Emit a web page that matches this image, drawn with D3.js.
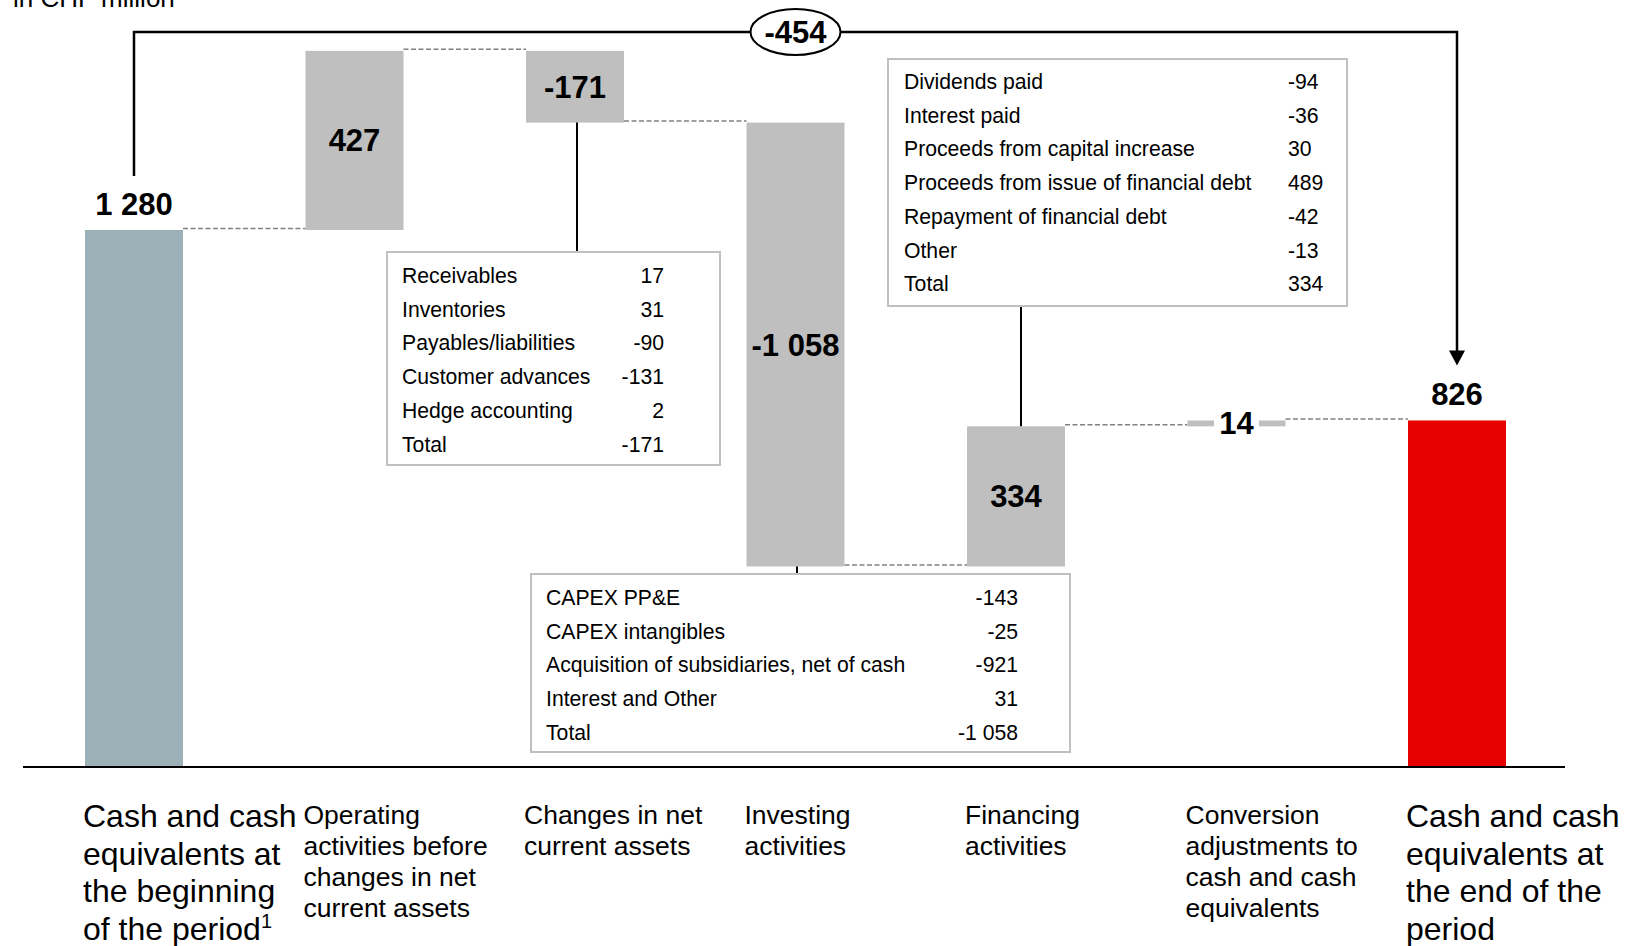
<!DOCTYPE html>
<html>
<head>
<meta charset="utf-8">
<script src="https://cdn.jsdelivr.net/npm/d3@7"></script>
<style>
  html, body { margin: 0; padding: 0; background: #fff; }
  svg { display: block; font-family: "Liberation Sans", Arial, Helvetica, sans-serif; }
</style>
</head>
<body>
<svg id="chart" width="1634" height="946"></svg>
<script>
// ---- Cash flow bridge, in CHF million ----
const unitLabel = "in CHF million";

const categoryLines = [
  ["Cash and cash", "equivalents at", "the beginning", "of the period"],
  ["Operating", "activities before", "changes in net", "current assets"],
  ["Changes in net", "current assets"],
  ["Investing", "activities"],
  ["Financing", "activities"],
  ["Conversion", "adjustments to", "cash and cash", "equivalents"],
  ["Cash and cash", "equivalents at", "the end of the", "period"]
];
const footnoteMark = "1";           // superscript on the first category
const values   = [1280, 427, -171, -1058, 334, 14, 826];
const barKinds = ["start", "step", "step", "step", "step", "step", "end"];

// Breakdown of changes in net current assets
const wcItems  = ["Receivables", "Inventories", "Payables/liabilities", "Customer advances", "Hedge accounting", "Total"];
const wcValues = [17, 31, -90, -131, 2, -171];

// Breakdown of investing activities
const invItems  = ["CAPEX PP&E", "CAPEX intangibles", "Acquisition of subsidiaries, net of cash", "Interest and Other", "Total"];
const invValues = [-143, -25, -921, 31, -1058];

// Breakdown of financing activities
const finItems  = ["Dividends paid", "Interest paid", "Proceeds from capital increase", "Proceeds from issue of financial debt", "Repayment of financial debt", "Other", "Total"];
const finValues = [-94, -36, 30, 489, -42, -13, 334];

// ---- formatting: space as thousands separator, plain hyphen minus ----
const fmt = d3.formatLocale({
  decimal: ".", thousands: " ", grouping: [3], currency: ["", ""], minus: "-"
}).format(",d");

const svg = d3.select("#chart");
const colors = { start: "#9cb0b8", step: "#bfbfbf", end: "#e60000" };

// ---- scales ----
const x = d3.scaleBand()
  .domain(d3.range(values.length))
  .range([85, 1506])
  .paddingInner(0.5556)
  .paddingOuter(0);
const bw = x.bandwidth();
const cx = i => x(i) + bw / 2;

const y = d3.scaleLinear().domain([0, 1280]).range([767, 230]);

// ---- waterfall geometry from values ----
let running = 0;
const bars = values.map((v, i) => {
  let lo, hi;
  if (barKinds[i] === "step") {
    lo = running; hi = running + v; running = hi;
  } else {
    lo = 0; hi = v; running = v;
  }
  return { i, v, kind: barKinds[i], bottom: Math.min(lo, hi), top: Math.max(lo, hi), level: running };
});

// unit title (partly above the frame)
svg.append("text")
  .attr("x", 13).attr("y", 7)
  .attr("font-size", 26)
  .attr("fill", "#000")
  .text(unitLabel);

// ---- dashed connectors between consecutive bars ----
svg.append("g")
  .selectAll("line")
  .data(bars.slice(0, -1))
  .join("line")
  .attr("x1", d => x(d.i) + bw)
  .attr("x2", d => x(d.i + 1))
  .attr("y1", d => y(d.level) - 1.5)
  .attr("y2", d => y(d.level) - 1.5)
  .attr("stroke", "#808080")
  .attr("stroke-width", 1.5)
  .attr("stroke-dasharray", "5,2.5");

// ---- bars ----
svg.append("g")
  .selectAll("rect")
  .data(bars)
  .join("rect")
  .attr("x", d => x(d.i))
  .attr("width", bw)
  .attr("y", d => y(d.top))
  .attr("height", d => y(d.bottom) - y(d.top))
  .attr("fill", d => colors[d.kind]);

// ---- axis baseline ----
svg.append("line")
  .attr("x1", 23).attr("x2", 1565)
  .attr("y1", y(0)).attr("y2", y(0))
  .attr("stroke", "#000").attr("stroke-width", 2);

// ---- breakdown boxes ----
const rowStep = 33.7;
const boxes = [
  { items: wcItems,  vals: wcValues,  bar: 2, x0: 387, x1: 720,  y0: 252, y1: 465, labelX: 402, valX: 664,  anchor: "end",   base: 283, lineX: 577 },
  { items: invItems, vals: invValues, bar: 3, x0: 531, x1: 1070, y0: 574, y1: 752, labelX: 546, valX: 1018, anchor: "end",   base: 605, lineX: 797 },
  { items: finItems, vals: finValues, bar: 4, x0: 888, x1: 1347, y0: 59,  y1: 306, labelX: 904, valX: 1288, anchor: "start", base: 89,  lineX: 1021 }
];

boxes.forEach(b => {
  const bar = bars[b.bar];
  const barTopPx = y(bar.top), barBotPx = y(bar.bottom);
  // leader line from bar to its box
  const below = b.y0 > barBotPx;
  svg.append("line")
    .attr("x1", b.lineX).attr("x2", b.lineX)
    .attr("y1", below ? barBotPx : b.y1)
    .attr("y2", below ? b.y0 : barTopPx)
    .attr("stroke", "#000").attr("stroke-width", 2);

  const g = svg.append("g");
  g.append("rect")
    .attr("x", b.x0).attr("y", b.y0)
    .attr("width", b.x1 - b.x0).attr("height", b.y1 - b.y0)
    .attr("fill", "#fff")
    .attr("stroke", "#c0c0c0").attr("stroke-width", 2);

  g.selectAll("text.lbl")
    .data(b.items)
    .join("text")
    .attr("class", "lbl")
    .attr("x", b.labelX)
    .attr("y", (d, k) => b.base + k * rowStep)
    .attr("font-size", 21.2)
    .attr("fill", "#000")
    .text(d => d);

  g.selectAll("text.val")
    .data(b.vals)
    .join("text")
    .attr("class", "val")
    .attr("x", b.valX)
    .attr("y", (d, k) => b.base + k * rowStep)
    .attr("text-anchor", b.anchor)
    .attr("font-size", 21.2)
    .attr("fill", "#000")
    .text(d => fmt(d));
});

// ---- bar value labels ----
const labelG = svg.append("g")
  .attr("font-size", 31)
  .attr("font-weight", "bold")
  .attr("fill", "#000");

bars.forEach(d => {
  const topPx = y(d.top), botPx = y(d.bottom);
  const label = fmt(d.v);
  if (d.kind !== "step") {
    labelG.append("text")
      .attr("x", cx(d.i))
      .attr("y", topPx - 15)
      .attr("text-anchor", "middle")
      .text(label);
  } else {
    const mid = (topPx + botPx) / 2;
    if (botPx - topPx < 30) {
      // thin bar: clear a gap for the label
      labelG.append("rect")
        .attr("x", cx(d.i) - 22.5).attr("y", topPx - 3)
        .attr("width", 45).attr("height", botPx - topPx + 6)
        .attr("fill", "#fff");
    }
    labelG.append("text")
      .attr("x", cx(d.i))
      .attr("y", mid + 11)
      .attr("text-anchor", "middle")
      .text(label);
  }
});

// ---- overall change bracket with arrow ----
const first = bars[0], last = bars[bars.length - 1];
const bracketY = 32;
const leftX = cx(first.i), rightX = cx(last.i);
const arrowTip = y(last.top) - 55;

svg.append("path")
  .attr("d", `M${leftX},${y(first.top) - 54} V${bracketY} H${rightX} V${arrowTip - 14}`)
  .attr("fill", "none")
  .attr("stroke", "#000")
  .attr("stroke-width", 2.5);

svg.append("path")
  .attr("d", `M${rightX - 8},${arrowTip - 15} L${rightX + 8},${arrowTip - 15} L${rightX},${arrowTip} Z`)
  .attr("fill", "#000");

const midX = (leftX + rightX) / 2;
svg.append("ellipse")
  .attr("cx", midX).attr("cy", bracketY)
  .attr("rx", 45).attr("ry", 23)
  .attr("fill", "#fff")
  .attr("stroke", "#000").attr("stroke-width", 2);

svg.append("text")
  .attr("x", midX).attr("y", bracketY + 11)
  .attr("text-anchor", "middle")
  .attr("font-size", 31)
  .attr("font-weight", "bold")
  .text(fmt(last.v - first.v));

// ---- category labels ----
categoryLines.forEach((lines, i) => {
  const big = barKinds[i] !== "step";
  const fs = big ? 32 : 26.5;
  const lh = big ? 37.5 : 31;
  const t = svg.append("text")
    .attr("x", x(i) - 2)
    .attr("y", big ? 827 : 824)
    .attr("font-size", fs)
    .attr("fill", "#000");
  lines.forEach((line, k) => {
    t.append("tspan")
      .attr("x", x(i) - 2)
      .attr("dy", k === 0 ? 0 : lh)
      .text(line);
  });
  if (i === 0) {
    t.append("tspan")
      .attr("font-size", 20)
      .attr("dy", -12)
      .text(footnoteMark);
  }
});
</script>
</body>
</html>
